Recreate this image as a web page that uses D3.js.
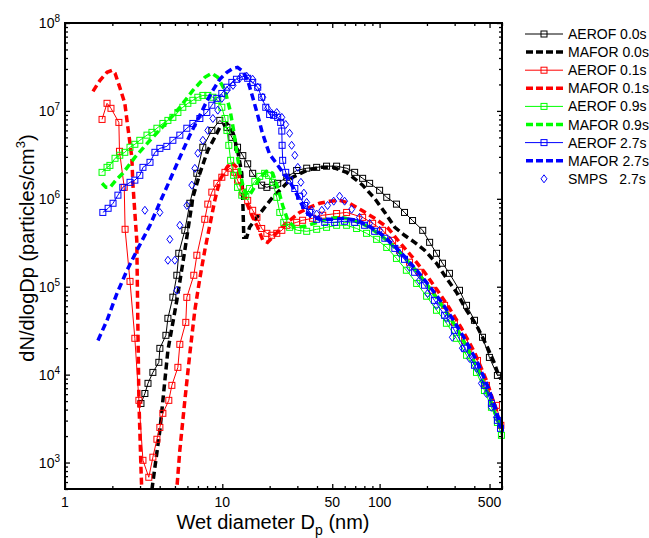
<!DOCTYPE html>
<html>
<head>
<meta charset="utf-8">
<script src="https://cdn.jsdelivr.net/npm/d3@7"></script>
<style>
  body { margin: 0; background: #fff; }
  text { font-family: Arial, "Liberation Sans", sans-serif; fill: #000; }
</style>
</head>
<body>
<svg id="chart" width="649" height="538"></svg>
<script>
// Size distributions: [wet diameter (nm), dN/dlogDp (particles/cm^3)]
const aerof00 = [[3.04,4.7e3],[3.22,6.1e3],[3.37,7.96e3],[3.62,1.06e4],[3.95,1.38e4],[4.01,1.99e4],[4.38,2.8e4],[4.51,4.37e4],[4.85,7.6e4],[5.14,1.35e5],[5.29,2.4e5],[5.78,4.38e5],[6.22,8.9e5],[6.89,1.95e6],[7.52,3.86e6],[8.58,6.0e6],[9.64,7.8e6],[10.7,6.5e6],[11.5,5.0e6],[12.5,3.86e6],[13.5,3.1e6],[14.5,2.5e6],[15.6,1.95e6],[17.8,1.43e6],[19.2,1.35e6],[20.9,1.43e6],[22.5,1.5e6],[25.7,1.76e6],[29.7,2.1e6],[34.4,2.23e6],[39.8,2.28e6],[46,2.35e6],[53.3,2.35e6],[61.7,2.23e6],[69.4,2.0e6],[78,1.71e6],[86.4,1.5e6],[100,1.25e6],[111,1.04e6],[128,8.7e5],[144,7.0e5],[162,5.66e5],[188,4.38e5],[208,3.2e5],[230,2.4e5],[251,1.85e5],[278,1.42e5],[322,9.1e4],[357,6.14e4],[401,4.15e4],[451,2.66e4],[499,1.57e4],[561,9.8e3]];

const mafor00 = [[3.47,370],[3.57,495],[4.01,2.32e3],[4.51,1.89e4],[5.14,7.0e4],[5.78,2.6e5],[6.5,1.04e6],[7.2,1.95e6],[8.09,3.56e6],[8.96,5.0e6],[9.64,6.5e6],[10.7,7.2e6],[11.7,5.6e6],[12.5,3.56e6],[13.3,1.95e6],[13.5,9.6e5],[13.7,3.65e5],[14.3,3.65e5],[14.9,4.74e5],[16.6,6.15e5],[18.6,8.0e5],[20.9,1.04e6],[24.2,1.35e6],[28,1.76e6],[34.4,2.1e6],[41.6,2.28e6],[50.3,2.28e6],[61.7,2.0e6],[78,1.43e6],[93,1.01e6],[108,7.0e5],[125,4.74e5],[144,3.85e5],[167,3.2e5],[193,2.6e5],[230,1.85e5],[266,1.25e5],[308,8.65e4],[357,5.4e4],[413,3.64e4],[478,2.16e4],[537,1.35e4],[578,9.1e3]];

const aerof01 = [[1.72,8.0e6],[1.85,1.22e7],[1.96,1.07e7],[2.2,7.4e6],[2.22,3.47e6],[2.38,1.35e6],[2.41,4.5e5],[2.59,1.15e5],[2.78,2.59e4],[2.95,5.1e3],[3.13,1.06e3],[3.41,680],[3.62,1.15e3],[3.84,1.84e3],[4.01,2.51e3],[4.19,3.63e3],[4.57,5.1e3],[4.78,7.55e3],[5.22,1.21e4],[5.37,2.21e4],[5.86,3.93e4],[5.95,7.57e4],[6.59,1.35e5],[6.89,2.28e5],[7.74,5.85e5],[8.09,8.7e5],[8.58,1.19e6],[9.23,1.5e6],[9.93,1.76e6],[10.4,2.0e6],[11.2,2.23e6],[12.0,2.0e6],[12.5,1.63e6],[13.5,1.19e6],[14.5,9.6e5],[15.6,7.4e5],[16.6,6.15e5],[17.8,4.6e5],[19.2,4.05e5],[20.6,3.85e5],[22.2,4.05e5],[23.9,4.38e5],[25.7,5.0e5],[29.7,5.4e5],[32.4,5.7e5],[37.5,6.0e5],[43.5,6.5e5],[53.3,6.8e5],[61.7,7.0e5],[78,6.15e5],[90.3,5.26e5],[104.5,4.38e5],[121,3.37e5],[134,2.6e5],[155,1.9e5],[179,1.46e5],[217,9.1e4],[259,6.14e4],[299,3.93e4],[347,2.45e4],[419,1.45e4],[478,7.55e3],[553,4.47e3],[590,2.65e3]];

const mafor01 = [[1.506,1.67e7],[1.67,2.23e7],[1.85,2.75e7],[1.99,2.9e7],[2.08,2.68e7],[2.23,1.85e7],[2.4,1.22e7],[2.51,6.5e6],[2.66,2.96e6],[2.7,1.5e6],[2.78,7.0e5],[2.86,3.37e5],[2.91,2.95e4],[2.95,5.1e3],[3.04,883],[3.08,450],[5.07,370],[5.37,1.38e3],[5.78,5.1e3],[6.22,1.75e4],[6.69,5.4e4],[7.2,1.25e5],[7.74,2.6e5],[8.33,5.0e5],[8.96,9.6e5],[9.64,1.63e6],[10.7,2.28e6],[11.5,2.6e6],[12.5,2.23e6],[13.3,1.35e6],[14.3,8.9e5],[15.6,6.15e5],[16.8,4.74e5],[18.1,3.37e5],[19.4,3.2e5],[20.9,3.65e5],[23.9,4.74e5],[26.8,5.66e5],[31,7.0e5],[35.9,8.0e5],[41.6,8.9e5],[48.2,9.4e5],[55.7,9.6e5],[64.5,8.9e5],[76.9,7.4e5],[93,6.0e5],[112,4.74e5],[134,3.2e5],[160,2.22e5],[193,1.46e5],[233,9.1e4],[278,5.7e4],[332,3.36e4],[401,1.8e4],[478,8.6e3],[553,3.9e3],[587,2.45e3]];

const aerof09 = [[1.72,2.0e6],[1.85,2.28e6],[1.93,2.4e6],[2.08,2.89e6],[2.23,3.13e6],[2.4,3.38e6],[2.59,3.86e6],[2.78,4.17e6],[2.99,4.63e6],[3.32,5.3e6],[3.57,5.7e6],[3.84,6.35e6],[4.19,7.2e6],[4.51,7.8e6],[4.85,8.45e6],[5.22,9.6e6],[5.61,1.1e7],[6.04,1.22e7],[6.5,1.32e7],[6.99,1.43e7],[7.52,1.5e7],[8.09,1.5e7],[8.71,1.43e7],[9.36,1.32e7],[9.93,1.1e7],[10.4,8.2e6],[10.7,6.0e6],[11.0,4.06e6],[11.3,2.74e6],[11.8,1.85e6],[12.5,1.35e6],[13.3,1.1e6],[14.1,1.07e6],[14.9,1.31e6],[16.1,1.58e6],[17.3,1.8e6],[18.6,1.95e6],[19.7,1.85e6],[20.9,1.54e6],[22.2,1.04e6],[23.2,7.0e5],[24.6,5.4e5],[26.8,4.74e5],[30.2,4.38e5],[34.4,4.27e5],[39.8,4.5e5],[46,4.74e5],[53.3,5.0e5],[61.7,5.0e5],[71.4,4.6e5],[82.6,4.05e5],[95.7,3.46e5],[111,2.8e5],[128,2.1e5],[148,1.54e5],[172,1.09e5],[199,7.8e4],[230,5.4e4],[266,3.84e4],[308,2.59e4],[357,1.66e4],[413,1.06e4],[464,6.6e3],[514,4.25e3],[561,2.86e3],[595,2.04e3]];

const mafor09 = [[1.72,1.5e6],[1.82,1.35e6],[1.93,1.35e6],[2.11,1.63e6],[2.33,1.95e6],[2.78,2.96e6],[3.47,4.63e6],[4.44,7.4e6],[5.37,1.1e7],[6.5,1.71e7],[7.74,2.41e7],[8.58,2.68e7],[9.36,2.41e7],[10.4,1.71e7],[11.2,1.02e7],[11.8,6.0e6],[12.3,3.56e6],[12.9,2.1e6],[13.5,1.43e6],[14.3,1.1e6],[14.9,1.1e6],[16.3,1.43e6],[17.8,1.85e6],[19.4,2.1e6],[20.9,1.95e6],[22.5,1.35e6],[24.2,8.4e5],[26.1,5.66e5],[28.9,4.74e5],[33.4,4.86e5],[40.4,5.4e5],[48.2,6.0e5],[57.4,6.15e5],[69.4,5.66e5],[83.9,4.86e5],[100,3.94e5],[119,3.03e5],[144,2.16e5],[174,1.46e5],[208,9.6e4],[251,5.98e4],[304,3.55e4],[362,2.0e4],[431,1.06e4],[507,5.1e3],[578,2.65e3]];

const aerof27 = [[1.74,7.0e5],[1.88,7.8e5],[2.02,8.9e5],[2.17,1.1e6],[2.33,1.35e6],[2.59,1.54e6],[2.78,1.63e6],[2.99,1.85e6],[3.13,2.28e6],[3.47,2.6e6],[3.73,3.38e6],[4.01,3.75e6],[4.44,3.95e6],[4.85,4.63e6],[5.37,5.3e6],[5.95,6.35e6],[6.5,7.2e6],[7.2,8.2e6],[7.97,9.6e6],[8.58,1.16e7],[9.23,1.39e7],[9.93,1.58e7],[10.7,1.86e7],[11.5,2.11e7],[12.3,2.29e7],[13.5,2.48e7],[14.5,2.35e7],[15.6,2.11e7],[16.8,1.86e7],[17.8,1.43e7],[18.9,1.1e7],[20,9.1e6],[21.2,8.9e6],[22.5,8.45e6],[23.5,7.4e6],[23.9,5.9e6],[24.0,4.06e6],[24.2,2.74e6],[25.3,2.0e6],[26.8,1.63e6],[28.9,1.31e6],[31,1.07e6],[33.4,8.4e5],[35.9,7.0e5],[39.8,5.85e5],[44.8,5.4e5],[51.8,5.4e5],[59.9,5.56e5],[69.4,5.4e5],[80.3,5.0e5],[93,4.27e5],[108,3.56e5],[125,2.73e5],[144,2.05e5],[167,1.46e5],[193,1.04e5],[223,7.0e4],[259,4.73e4],[299,3.19e4],[347,2.0e4],[401,1.28e4],[464,7.55e3],[514,4.72e3],[561,3.02e3],[587,2.45e3]];

const mafor27 = [[1.62,2.45e4],[1.85,4.15e4],[2.14,8.4e4],[2.48,1.54e5],[2.91,2.73e5],[3.47,5.0e5],[4.01,9.1e5],[4.64,1.63e6],[5.37,2.96e6],[6.22,5.3e6],[7.2,8.9e6],[7.97,1.29e7],[8.71,1.71e7],[9.64,2.29e7],[10.7,2.75e7],[11.7,3.05e7],[12.5,3.13e7],[13.5,2.82e7],[14.5,2.23e7],[15.6,1.43e7],[16.8,8.9e6],[17.8,6.0e6],[18.9,4.28e6],[20,3.2e6],[22.2,2.5e6],[24.2,2.0e6],[26.8,1.58e6],[28.9,1.25e6],[31,9.6e5],[33.4,7.4e5],[36.6,6.3e5],[41.6,5.85e5],[49.4,5.85e5],[59.9,6.0e5],[72.7,5.66e5],[86.4,4.86e5],[103,3.94e5],[123,2.96e5],[146,2.16e5],[174,1.5e5],[208,1.01e5],[248,6.64e4],[295,4.15e4],[352,2.45e4],[419,1.38e4],[492,7.0e3],[553,3.9e3],[587,2.45e3]];

const smps27 = [[3.22,7.4e5],[4.01,7.0e5],[4.51,2.0e5],[4.64,3.46e5],[4.99,2.0e5],[5.14,9.1e4],[5.37,5.0e5],[5.95,8.4e5],[6.4,1.43e6],[6.69,2.22e6],[6.99,3.3e6],[7.52,4.63e6],[8.09,6.0e6],[8.71,8.2e6],[9.36,1.02e7],[9.93,1.39e7],[10.7,1.71e7],[11.7,1.95e7],[12.9,2.35e7],[14.3,2.48e7],[15.6,2.29e7],[16.8,1.86e7],[18.1,1.43e7],[19.4,1.07e7],[20.6,9.4e6],[22.2,9.6e6],[23.9,8.45e6],[25.3,7.0e6],[26.8,5.56e6],[27.6,4.06e6],[28.9,3.13e6],[30.2,2.28e6],[31.6,1.54e6],[33,1.16e6],[34.4,9.1e5],[36.9,7.4e5],[39.8,6.7e5],[42.9,7.4e5],[46.7,8.4e5],[51.1,9.4e5],[55.7,1.07e6],[59.9,9.4e5],[66.4,7.6e5],[74.5,6.15e5],[86.4,5.26e5],[100,4.38e5],[116,3.37e5],[134,2.4e5],[155,1.66e5],[179,1.18e5],[202,8.4e4],[230,6.14e4],[266,4.37e4],[290,2.66e4],[336,2.0e4],[373,1.53e4],[413,1.18e4],[444,7.96e3],[478,6.1e3],[514,4.25e3],[553,3.27e3]];

// Legend entries, in drawing order
const seriesNames = ["AEROF 0.0s", "MAFOR 0.0s", "AEROF 0.1s", "MAFOR 0.1s", "AEROF 0.9s", "MAFOR 0.9s", "AEROF 2.7s", "MAFOR 2.7s", "SMPS   2.7s"];
const seriesData = [aerof00, mafor00, aerof01, mafor01, aerof09, mafor09, aerof27, mafor27, smps27];
const seriesColors = ["#000000", "#000000", "#ff0000", "#ff0000", "#00ff00", "#00ff00", "#0000ff", "#0000ff", "#0000ff"];
const seriesKinds = ["model", "dashed", "model", "dashed", "model", "dashed", "model", "dashed", "measured"];

// Axis tick labels
const xTickLabels = [1, 10, 50, 100, 500];
const yTickExponents = [3, 4, 5, 6, 7, 8];

const xTitle = "Wet diameter D";
const xTitleSub = "p";
const xTitleTail = " (nm)";
const yTitle = "dN/dlogDp (particles/cm";

const svg = d3.select("#chart");
const frame = { left: 65, right: 502, top: 23, bottom: 489 };

const x = d3.scaleLog().domain([1, 600]).range([frame.left, frame.right]);
const y = d3.scaleLog().domain([500, 1e8]).range([frame.bottom, frame.top]);

svg.append("rect").attr("width", 649).attr("height", 538).attr("fill", "#fff");

svg.append("defs").append("clipPath").attr("id", "plot-clip")
  .append("rect")
  .attr("x", frame.left).attr("y", frame.top)
  .attr("width", frame.right - frame.left).attr("height", frame.bottom - frame.top);

// 1..9 x 10^k tick positions inside a log range
function logSteps(lo, hi) {
  const out = [];
  for (let e = Math.floor(Math.log10(lo)); e <= Math.ceil(Math.log10(hi)); e++) {
    for (let k = 1; k < 10; k++) {
      const v = k * Math.pow(10, e);
      if (v >= lo * 0.999 && v <= hi * 1.001) out.push(v);
    }
  }
  return out;
}

const xMinor = logSteps(1, 600).filter(v => !xTickLabels.includes(v));
const yMajor = yTickExponents.map(e => Math.pow(10, e));
const yMinor = logSteps(500, 1e8).filter(v => !yMajor.some(m => Math.abs(m - v) < 1e-6 * m));

function tickGroup(axisGen, values, size, translate) {
  const g = svg.append("g")
    .attr("transform", translate)
    .call(axisGen.tickValues(values).tickSize(size).tickSizeOuter(0).tickFormat(""));
  g.select(".domain").remove();
  g.selectAll(".tick line").attr("stroke", "#000").attr("stroke-width", 1.3);
  return g;
}

// inward ticks on all four sides
tickGroup(d3.axisBottom(x), xTickLabels, -5, `translate(0,${frame.bottom})`);
tickGroup(d3.axisBottom(x), xMinor, -3, `translate(0,${frame.bottom})`);
tickGroup(d3.axisTop(x), xTickLabels, -5, `translate(0,${frame.top})`);
tickGroup(d3.axisTop(x), xMinor, -3, `translate(0,${frame.top})`);
tickGroup(d3.axisLeft(y), yMajor, -5, `translate(${frame.left},0)`);
tickGroup(d3.axisLeft(y), yMinor, -3, `translate(${frame.left},0)`);
tickGroup(d3.axisRight(y), yMajor, -5, `translate(${frame.right},0)`);
tickGroup(d3.axisRight(y), yMinor, -3, `translate(${frame.right},0)`);

// tick labels
svg.append("g").selectAll("text").data(xTickLabels).join("text")
  .attr("x", d => x(d)).attr("y", 507)
  .attr("text-anchor", "middle").attr("font-size", 14)
  .text(d => d);

const yLabels = svg.append("g").selectAll("text").data(yTickExponents).join("text")
  .attr("x", 60).attr("y", d => y(Math.pow(10, d)) + 5)
  .attr("text-anchor", "end").attr("font-size", 14);
yLabels.append("tspan").text("10");
yLabels.append("tspan").attr("font-size", 10).attr("dy", -6).text(d => d);

// axis titles
const xt = svg.append("text").attr("x", 273).attr("y", 529)
  .attr("text-anchor", "middle").attr("font-size", 20);
xt.append("tspan").text(xTitle);
xt.append("tspan").attr("font-size", 14).attr("dy", 6).text(xTitleSub);
xt.append("tspan").attr("dy", -6).text(xTitleTail);

const yt = svg.append("text")
  .attr("transform", "translate(34,248) rotate(-90)")
  .attr("text-anchor", "middle").attr("font-size", 20);
yt.append("tspan").text(yTitle);
yt.append("tspan").attr("font-size", 13).attr("dy", -9).text("3");
yt.append("tspan").attr("dy", 9).text(")");

// series
const line = d3.line().x(d => x(d[0])).y(d => y(d[1]));
const plot = svg.append("g");

function squareAt(g, px, py, color) {
  g.append("rect").attr("x", px - 3).attr("y", py - 3).attr("width", 6).attr("height", 6)
    .attr("fill", "none").attr("stroke", color).attr("stroke-width", 1);
}
function diamondAt(g, px, py, color) {
  g.append("path").attr("d", `M${px},${py - 4}L${px + 3},${py}L${px},${py + 4}L${px - 3},${py}Z`)
    .attr("fill", "none").attr("stroke", color).attr("stroke-width", 1);
}

seriesData.forEach((data, i) => {
  const color = seriesColors[i];
  const kind = seriesKinds[i];
  const g = plot.append("g");
  if (kind === "model") {
    g.append("path").datum(data).attr("d", line).attr("clip-path", "url(#plot-clip)")
      .attr("fill", "none").attr("stroke", color).attr("stroke-width", 1);
    data.filter(d => d[1] >= 500).forEach(d => squareAt(g, x(d[0]), y(d[1]), color));
  } else if (kind === "dashed") {
    g.append("path").datum(data).attr("d", line).attr("clip-path", "url(#plot-clip)")
      .attr("fill", "none").attr("stroke", color).attr("stroke-width", 3.5)
      .attr("stroke-dasharray", "7,4");
  } else {
    data.forEach(d => diamondAt(g, x(d[0]), y(d[1]), color));
  }
});

// frame
svg.append("rect")
  .attr("x", frame.left).attr("y", frame.top)
  .attr("width", frame.right - frame.left).attr("height", frame.bottom - frame.top)
  .attr("fill", "none").attr("stroke", "#000").attr("stroke-width", 2);

// legend
const legend = svg.append("g");
seriesNames.forEach((name, i) => {
  const ly = 34 + i * 18.1;
  const color = seriesColors[i];
  const kind = seriesKinds[i];
  if (kind === "model") {
    legend.append("line").attr("x1", 525).attr("x2", 563).attr("y1", ly).attr("y2", ly)
      .attr("stroke", color).attr("stroke-width", 1);
    squareAt(legend, 544, ly, color);
  } else if (kind === "dashed") {
    legend.append("line").attr("x1", 526).attr("x2", 563).attr("y1", ly).attr("y2", ly)
      .attr("stroke", color).attr("stroke-width", 3.5).attr("stroke-dasharray", "7,3");
  } else {
    diamondAt(legend, 544, ly, color);
  }
  legend.append("text").attr("x", 568).attr("y", ly + 5).attr("font-size", 14)
    .style("white-space", "pre").text(name);
});
</script>
</body>
</html>
